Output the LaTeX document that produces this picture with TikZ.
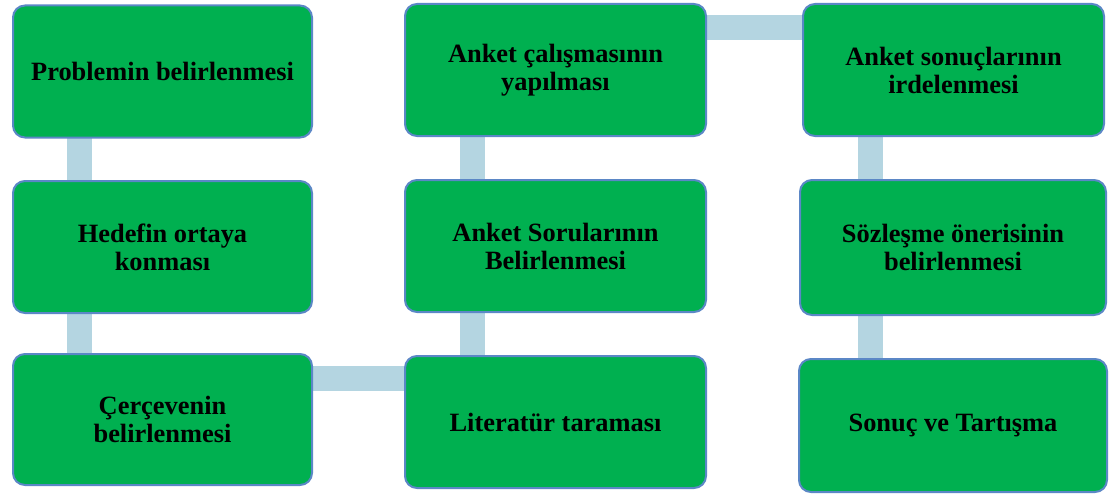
\documentclass[tikz,border=0pt]{standalone}
\usepackage{fontspec}
\setmainfont{Liberation Serif}
\usetikzlibrary{backgrounds}
\definecolor{boxgreen}{HTML}{00B050}
\definecolor{boxline}{HTML}{5B87C6}
\definecolor{connblue}{HTML}{B4D5E1}
\tikzset{
  stepbox/.style={draw=boxline, line width=2pt, fill=boxgreen, rounded corners=12pt,
    align=center, inner sep=4pt,
    font=\fontsize{26.4}{28}\selectfont\bfseries, text=black},
  conn/.style={draw=connblue, line width=25pt}
}
\begin{document}
\begin{tikzpicture}[x=1pt,y=-1pt]
\useasboundingbox (0,0) rectangle (1109,495);
% column 1
\node[stepbox, minimum width=299pt, minimum height=132pt] (b1) at (162.5,71.5) {Problemin belirlenmesi};
\node[stepbox, minimum width=299pt, minimum height=132pt] (b2) at (162.5,247) {Hedefin ortaya\\konması};
\node[stepbox, minimum width=299pt, minimum height=131pt] (b3) at (162.5,419.5) {Çerçevenin\\belirlenmesi};
% column 2
\node[stepbox, minimum width=301pt, minimum height=132pt] (lit) at (555.5,422) {Literatür taraması};
\node[stepbox, minimum width=301pt, minimum height=132pt] (soru) at (555.5,246) {Anket Sorularının\\Belirlenmesi};
\node[stepbox, minimum width=301pt, minimum height=132pt] (anket) at (555.5,70) {Anket çalışmasının\\yapılması};
% column 3
\node[stepbox, minimum width=301pt, minimum height=132pt] (irde) at (953.5,70) {Anket sonuçlarının\\irdelenmesi};
\node[stepbox, minimum width=306pt, minimum height=135pt] (soz) at (953,247.5) {Sözleşme önerisinin\\belirlenmesi};
\node[stepbox, minimum width=308pt, minimum height=133pt] (sonuc) at (953,425.5) {Sonuç ve Tartışma};
% connectors
\coordinate (v1) at ([xshift=67.5pt]b1.west);
\coordinate (v2) at ([xshift=68.5pt]anket.west);
\coordinate (v3) at ([xshift=68.5pt]irde.west);
\coordinate (h1) at ([yshift=41pt]b3.center);
\coordinate (h2) at ([yshift=42.5pt]anket.center);
\begin{scope}[on background layer]
\draw[conn] (v1) -- (v1 |- b2.center) -- (v1 |- b3.center);
\draw[conn] (h1) -- (h1 -| lit.center);
\draw[conn] (v2 |- lit.center) -- (v2 |- soru.center) -- (v2);
\draw[conn] (h2) -- (h2 -| irde.center);
\draw[conn] (v3) -- (v3 |- soz.center) -- (v3 |- sonuc.center);
\end{scope}
\end{tikzpicture}
\end{document}
